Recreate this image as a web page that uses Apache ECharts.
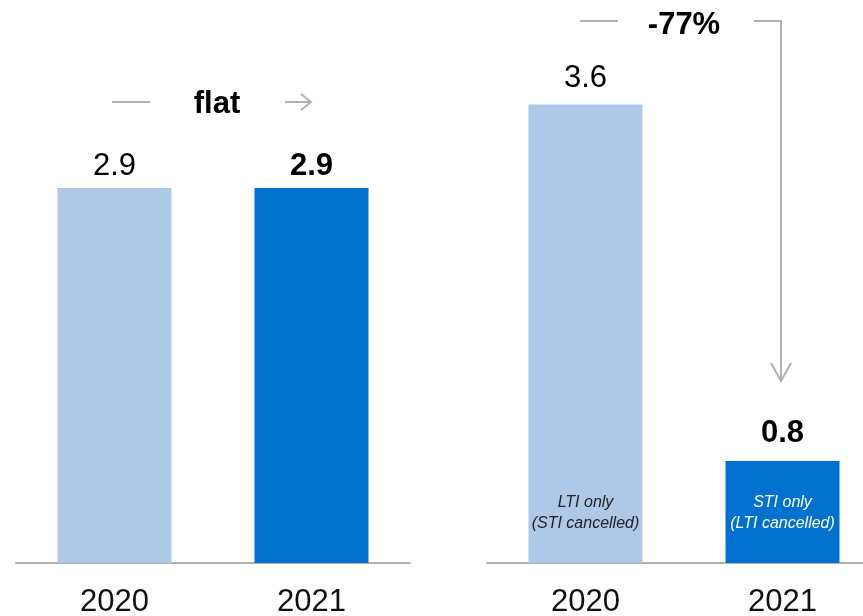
<!DOCTYPE html>
<html>
<head>
<meta charset="utf-8">
<script src="https://cdn.jsdelivr.net/npm/echarts@6/dist/echarts.min.js"></script>
<style>
  html, body { margin: 0; padding: 0; background: #fff; }
  #chart { width: 863px; height: 616px; }
</style>
</head>
<body>
<div id="chart"></div>
<script>
// Total remuneration, two comparisons side by side
const years = ['2020', '2021'];
const leftValues = [2.9, 2.9];
const rightValues = [3.6, 0.8];
const rightNotes = ['LTI only\n(STI cancelled)', 'STI only\n(LTI cancelled)'];
const leftChange = 'flat';
const rightChange = '-77%';

const LIGHT = '#aec8e8';
const DARK = '#0071ce';
const GREY = '#b0b0b0';
const FONT = '"Liberation Sans", Arial, Helvetica, sans-serif';

const chart = echarts.init(document.getElementById('chart'));

function xAxisFor(gridIndex) {
  return {
    type: 'category',
    gridIndex,
    data: years,
    axisTick: { show: false },
    axisLine: { show: true, lineStyle: { color: GREY, width: 2 } },
    axisLabel: { color: '#111', fontSize: 31, fontFamily: FONT, margin: 24 }
  };
}
function yAxisFor(gridIndex, max) {
  return { type: 'value', gridIndex, min: 0, max, show: false, splitLine: { show: false } };
}

const valueLabel = (bold, distance) => ({
  show: true,
  position: 'top',
  distance,
  fontSize: 31,
  fontFamily: FONT,
  fontWeight: bold ? 'bold' : 'normal',
  color: '#000',
  formatter: p => p.value.toFixed(1)
});

chart.setOption({
  animation: false,
  grid: [
    { left: 16, width: 394, top: 0, bottom: 53, outerBoundsMode: 'none' },
    // the right panel runs past the page edge
    { left: 487, width: 394, top: 0, bottom: 53, outerBoundsMode: 'none' }
  ],
  xAxis: [xAxisFor(0), xAxisFor(1)],
  yAxis: [yAxisFor(0, 4.354), yAxisFor(1, 4.42)],
  series: [
    {
      type: 'bar', xAxisIndex: 0, yAxisIndex: 0, barWidth: 114,
      data: [
        { value: leftValues[0], itemStyle: { color: LIGHT }, label: valueLabel(false, 6) },
        { value: leftValues[1], itemStyle: { color: DARK }, label: valueLabel(true, 6) }
      ]
    },
    {
      type: 'bar', xAxisIndex: 1, yAxisIndex: 1, barWidth: 114,
      data: [
        { value: rightValues[0], itemStyle: { color: LIGHT }, label: valueLabel(false, 10) },
        { value: rightValues[1], itemStyle: { color: DARK }, label: valueLabel(true, 12) }
      ]
    },
    {
      // notes written inside the right-hand bars
      type: 'bar', xAxisIndex: 1, yAxisIndex: 1, barWidth: 114, barGap: '-100%',
      itemStyle: { color: 'rgba(0,0,0,0)' },
      silent: true,
      data: rightValues.map((v, i) => ({
        value: v,
        label: {
          show: true,
          position: 'insideBottom',
          distance: 29,
          formatter: rightNotes[i],
          fontSize: 16,
          lineHeight: 21,
          fontStyle: 'italic',
          fontFamily: FONT,
          color: i === 0 ? '#222' : '#ffffff'
        }
      }))
    }
  ],
  graphic: [
    // "flat" callout
    { type: 'line', shape: { x1: 112, y1: 102, x2: 150, y2: 102 }, style: { stroke: GREY, lineWidth: 2 } },
    { type: 'text', x: 217, y: 104, style: { text: leftChange, font: 'bold 31px ' + FONT, fill: '#000', align: 'center', verticalAlign: 'middle' } },
    { type: 'polyline', shape: { points: [[285, 102], [311, 102]] }, style: { stroke: GREY, lineWidth: 2 } },
    { type: 'polyline', shape: { points: [[301, 94], [311, 102], [301, 110]] }, style: { stroke: GREY, lineWidth: 2, fill: null } },
    // "-77%" callout with drop arrow
    { type: 'line', shape: { x1: 580, y1: 21, x2: 618, y2: 21 }, style: { stroke: GREY, lineWidth: 2 } },
    { type: 'text', x: 684, y: 25, style: { text: rightChange, font: 'bold 31px ' + FONT, fill: '#000', align: 'center', verticalAlign: 'middle' } },
    { type: 'polyline', shape: { points: [[754, 21], [781, 21], [781, 381]] }, style: { stroke: GREY, lineWidth: 2, fill: null } },
    { type: 'polyline', shape: { points: [[771, 363], [781, 381], [791, 363]] }, style: { stroke: GREY, lineWidth: 2, fill: null } }
  ]
});
</script>
</body>
</html>
